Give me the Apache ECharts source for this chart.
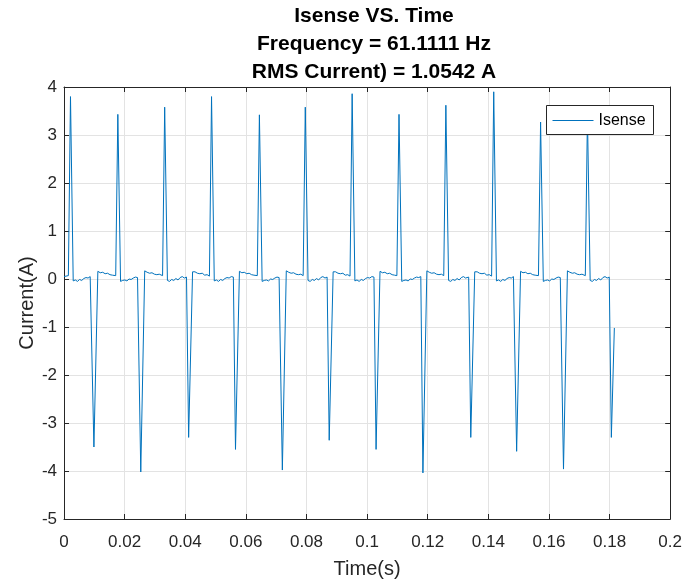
<!DOCTYPE html>
<html>
<head>
<meta charset="utf-8">
<script src="https://cdn.jsdelivr.net/npm/echarts@6/dist/echarts.min.js"></script>
<style>html,body{margin:0;padding:0;background:#fff;}#c{width:685px;height:584px;}</style>
</head>
<body>
<div id="c"></div>
<script>
// Title lines
const titleLines = ['Isense VS. Time', 'Frequency = 61.1111 Hz', 'RMS Current) = 1.0542 A'];
const seriesName = 'Isense';
const xAxisName = 'Time(s)';
const yAxisName = 'Current(A)';
// Axis ranges / ticks
const xTicks = [0, 0.02, 0.04, 0.06, 0.08, 0.1, 0.12, 0.14, 0.16, 0.18, 0.2];
const yTicks = [-5, -4, -3, -2, -1, 0, 1, 2, 3, 4];
// Time samples in milliseconds
const timeMs = [
  0.00, 0.66, 1.44, 2.14,
  3.04, 3.74, 4.44, 5.14, 5.84, 6.54, 7.24, 7.94, 8.64, 9.17, 9.87,
  11.17, 11.97, 12.77, 13.57, 14.37, 15.17, 15.97, 17.06, 17.76,
  18.66, 19.36, 20.06, 20.76, 21.46, 22.16, 22.86, 23.56, 24.26, 24.63, 25.33,
  26.63, 27.43, 28.23, 29.03, 29.83, 30.63, 31.43, 32.52, 33.22,
  34.12, 34.82, 35.52, 36.22, 36.92, 37.62, 38.32, 39.02, 39.72, 40.42, 41.12,
  42.42, 43.22, 44.02, 44.82, 45.62, 46.42, 47.22, 47.98, 48.68,
  49.58, 50.28, 50.98, 51.68, 52.38, 53.08, 53.78, 54.48, 55.18, 55.88, 56.58,
  57.88, 58.68, 59.48, 60.28, 61.08, 61.88, 62.68, 63.77, 64.47,
  65.37, 66.07, 66.77, 67.47, 68.17, 68.87, 69.57, 70.27, 70.97, 71.34, 72.04,
  73.34, 74.14, 74.94, 75.74, 76.54, 77.34, 78.14, 78.91, 79.61,
  80.51, 81.21, 81.91, 82.61, 83.31, 84.01, 84.71, 85.41, 86.11, 86.80, 87.50,
  88.80, 89.60, 90.40, 91.20, 92.00, 92.80, 93.60, 94.37, 95.07,
  95.97, 96.67, 97.37, 98.07, 98.77, 99.47, 100.17, 100.87, 101.57, 102.26, 102.96,
  104.26, 105.06, 105.86, 106.66, 107.46, 108.26, 109.06, 109.83, 110.53,
  111.43, 112.13, 112.83, 113.53, 114.23, 114.93, 115.63, 116.33, 117.03, 117.72, 118.42,
  119.72, 120.52, 121.32, 122.12, 122.92, 123.72, 124.52, 125.29, 125.99,
  126.89, 127.59, 128.29, 128.99, 129.69, 130.39, 131.09, 131.79, 132.49, 133.51, 134.21,
  135.51, 136.31, 137.11, 137.91, 138.71, 139.51, 140.31, 141.08, 141.78,
  142.68, 143.38, 144.08, 144.78, 145.48, 146.18, 146.88, 147.58, 148.28, 148.64, 149.34,
  150.64, 151.44, 152.24, 153.04, 153.84, 154.64, 155.44, 156.54, 157.24,
  158.14, 158.84, 159.54, 160.24, 160.94, 161.64, 162.34, 163.04, 163.74, 164.10, 164.80,
  166.10, 166.90, 167.70, 168.50, 169.30, 170.10, 170.90, 172.00, 172.70,
  173.60, 174.30, 175.00, 175.70, 176.40, 177.10, 177.80, 178.50, 179.20, 179.89, 180.59,
  181.58
];
// Current values in amperes
const currentA = [
  0.05, 0.06, 0.07, 3.80,
  -0.04, -0.02, -0.05, -0.01, -0.03, 0.01, 0.03, 0.02, 0.05, 0.04, -3.50,
  0.16, 0.13, 0.14, 0.11, 0.12, 0.09, 0.08, 0.07, 3.43,
  -0.05, -0.03, -0.02, -0.04, 0.00, -0.01, 0.02, 0.04, 0.03, 0.05, -4.02,
  0.17, 0.14, 0.12, 0.13, 0.10, 0.09, 0.10, 0.07, 3.58,
  -0.03, -0.05, -0.01, -0.03, 0.01, -0.02, 0.03, 0.05, 0.02, 0.04, -3.30,
  0.15, 0.15, 0.12, 0.11, 0.12, 0.08, 0.09, 0.06, 3.80,
  -0.04, -0.02, -0.05, -0.01, -0.03, 0.01, 0.03, 0.02, 0.05, 0.04, -3.55,
  0.16, 0.13, 0.14, 0.11, 0.12, 0.09, 0.08, 0.07, 3.42,
  -0.05, -0.03, -0.02, -0.04, 0.00, -0.01, 0.02, 0.04, 0.03, 0.05, -3.98,
  0.17, 0.14, 0.12, 0.13, 0.10, 0.09, 0.10, 0.07, 3.58,
  -0.03, -0.05, -0.01, -0.03, 0.01, -0.02, 0.03, 0.05, 0.02, 0.04, -3.36,
  0.15, 0.15, 0.12, 0.11, 0.12, 0.08, 0.09, 0.06, 3.86,
  -0.04, -0.02, -0.05, -0.01, -0.03, 0.01, 0.03, 0.02, 0.05, 0.04, -3.55,
  0.16, 0.13, 0.14, 0.11, 0.12, 0.09, 0.08, 0.07, 3.43,
  -0.05, -0.03, -0.02, -0.04, 0.00, -0.01, 0.02, 0.04, 0.03, 0.05, -4.04,
  0.17, 0.14, 0.12, 0.13, 0.10, 0.09, 0.10, 0.07, 3.62,
  -0.03, -0.05, -0.01, -0.03, 0.01, -0.02, 0.03, 0.05, 0.02, 0.04, -3.30,
  0.15, 0.15, 0.12, 0.11, 0.12, 0.08, 0.09, 0.06, 3.90,
  -0.04, -0.02, -0.05, -0.01, -0.03, 0.01, 0.03, 0.02, 0.05, 0.04, -3.59,
  0.16, 0.13, 0.14, 0.11, 0.12, 0.09, 0.08, 0.07, 3.27,
  -0.05, -0.03, -0.02, -0.04, 0.00, -0.01, 0.02, 0.04, 0.03, 0.05, -3.96,
  0.17, 0.14, 0.12, 0.13, 0.10, 0.09, 0.10, 0.07, 3.40,
  -0.03, -0.05, -0.01, -0.03, 0.01, -0.02, 0.03, 0.05, 0.02, 0.04, -3.30,
  -1.02
];

const data = timeMs.map((t, i) => [t / 1000, currentA[i]]);
const axisColor = '#262626';
const lineColor = '#0072BD';
const font = '"Liberation Sans", Arial, Helvetica, sans-serif';
const xMin = xTicks[0], xMax = xTicks[xTicks.length - 1], xInt = xTicks[1] - xTicks[0];
const yMin = yTicks[0], yMax = yTicks[yTicks.length - 1], yInt = yTicks[1] - yTicks[0];
const fmt = v => String(+v.toFixed(4));

const chart = echarts.init(document.getElementById('c'), null, {renderer: 'canvas'});
const boxAxisX = (pos, show) => ({
  type: 'value', position: pos, min: xMin, max: xMax, interval: xInt,
  axisLine: {show: true, onZero: false, lineStyle: {color: axisColor, width: 1}},
  axisTick: {show: true, inside: true, length: 5, lineStyle: {color: axisColor}},
  axisLabel: {show: show, color: axisColor, fontSize: 17, fontFamily: font, margin: 15, formatter: fmt},
  splitLine: {show: show, lineStyle: {color: '#e3e3e3', width: 1}}
});
const boxAxisY = (pos, show) => ({
  type: 'value', position: pos, min: yMin, max: yMax, interval: yInt,
  axisLine: {show: true, onZero: false, lineStyle: {color: axisColor, width: 1}},
  axisTick: {show: true, inside: true, length: 5, lineStyle: {color: axisColor}},
  axisLabel: {show: show, color: axisColor, fontSize: 17, fontFamily: font, margin: 7, formatter: fmt},
  splitLine: {show: show, lineStyle: {color: '#e3e3e3', width: 1}}
});
const xMain = Object.assign(boxAxisX('bottom', true), {
  name: xAxisName, nameLocation: 'middle', nameGap: 40, nameMoveOverlap: false,
  nameTextStyle: {color: axisColor, fontSize: 20, fontFamily: font}
});
const yMain = Object.assign(boxAxisY('left', true), {
  name: yAxisName, nameLocation: 'middle', nameGap: 27, nameMoveOverlap: false,
  nameTextStyle: {color: axisColor, fontSize: 20, fontFamily: font}
});
chart.setOption({
  animation: false,
  backgroundColor: '#ffffff',
  title: {
    text: titleLines.join('\n'),
    left: 369, top: -3, textAlign: 'center',
    textStyle: {color: '#000', fontSize: 21, fontWeight: 'bold', fontFamily: font, lineHeight: 28}
  },
  grid: {left: 64, right: 13, top: 87, bottom: 63, containLabel: false},
  xAxis: [xMain, boxAxisX('top', false)],
  yAxis: [yMain, boxAxisY('right', false)],
  series: [{
    name: seriesName, type: 'line', data: data, xAxisIndex: 0, yAxisIndex: 0,
    symbol: 'none', showSymbol: false, clip: true, z: 2,
    lineStyle: {color: lineColor, width: 1}, itemStyle: {color: lineColor}
  }],
  graphic: [{
    type: 'group', left: 546, top: 105, z: 100, zlevel: 1,
    children: [
      {type: 'rect', z: 100, zlevel: 1, shape: {x: 0, y: 0, width: 107, height: 29},
       style: {fill: '#ffffff', stroke: axisColor, lineWidth: 1}},
      {type: 'line', z: 101, zlevel: 1, shape: {x1: 6, y1: 15, x2: 47, y2: 15},
       style: {stroke: lineColor, lineWidth: 1}},
      {type: 'text', z: 101, zlevel: 1, x: 52, y: 15,
       style: {text: seriesName, fill: '#000', font: '16px ' + font, textVerticalAlign: 'middle', verticalAlign: 'middle'}}
    ]
  }]
});
</script>
</body>
</html>
